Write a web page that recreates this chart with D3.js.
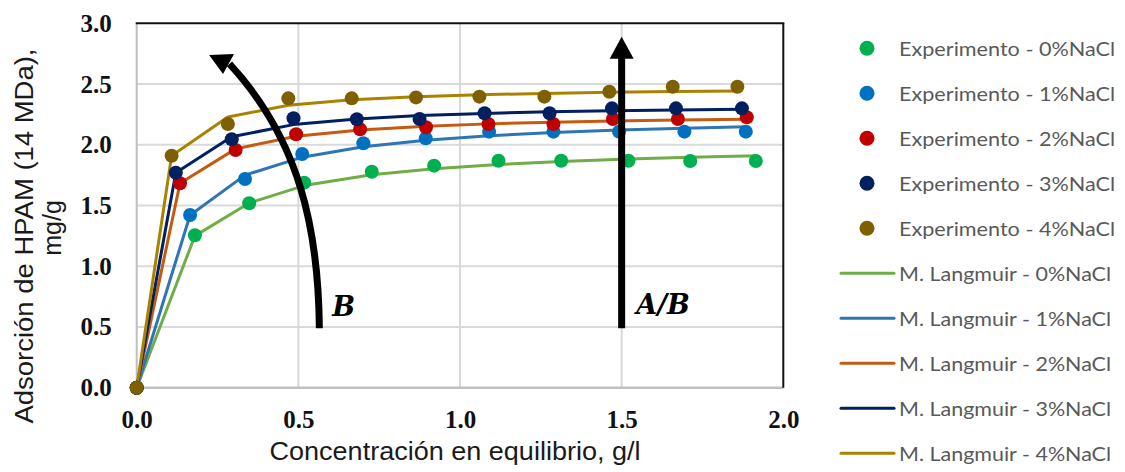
<!DOCTYPE html>
<html>
<head>
<meta charset="utf-8">
<script src="https://cdn.jsdelivr.net/npm/d3@7"></script>
<style>
  html, body { margin: 0; padding: 0; background: #ffffff; }
  svg { display: block; }
</style>
</head>
<body>
<svg id="chart" width="1125" height="472"></svg>
<script>
// ---------- DATA ----------
const seriesNames = ["0%NaCl", "1%NaCl", "2%NaCl", "3%NaCl", "4%NaCl"];
const conc0 = [0, 0.180, 0.348, 0.518, 0.727, 0.920, 1.119, 1.313, 1.521, 1.712, 1.915];
const exp0  = [0, 1.255, 1.518, 1.688, 1.778, 1.828, 1.869, 1.869, 1.869, 1.866, 1.866];
const lang0 = [0, 1.250, 1.520, 1.664, 1.753, 1.803, 1.838, 1.863, 1.883, 1.897, 1.909];

const conc1 = [0, 0.165, 0.335, 0.512, 0.701, 0.894, 1.090, 1.289, 1.492, 1.694, 1.884];
const exp1  = [0, 1.422, 1.718, 1.924, 2.012, 2.053, 2.108, 2.108, 2.108, 2.108, 2.108];
const lang1 = [0, 1.420, 1.750, 1.898, 1.984, 2.037, 2.074, 2.101, 2.121, 2.137, 2.149];

const conc2 = [0, 0.134, 0.306, 0.493, 0.691, 0.895, 1.088, 1.289, 1.473, 1.674, 1.887];
const exp2  = [0, 1.683, 1.957, 2.086, 2.127, 2.144, 2.171, 2.171, 2.212, 2.212, 2.226];
const lang2 = [0, 1.683, 1.966, 2.070, 2.122, 2.153, 2.172, 2.186, 2.195, 2.203, 2.210];

const conc3 = [0, 0.121, 0.294, 0.485, 0.681, 0.875, 1.076, 1.277, 1.470, 1.668, 1.872];
const exp3  = [0, 1.770, 2.045, 2.218, 2.210, 2.212, 2.259, 2.259, 2.300, 2.300, 2.300];
const lang3 = [0, 1.770, 2.066, 2.166, 2.213, 2.240, 2.258, 2.271, 2.280, 2.287, 2.292];

const conc4 = [0, 0.108, 0.282, 0.469, 0.665, 0.864, 1.060, 1.261, 1.462, 1.658, 1.858];
const exp4  = [0, 1.910, 2.171, 2.382, 2.382, 2.390, 2.396, 2.396, 2.437, 2.478, 2.478];
const lang4 = [0, 1.910, 2.229, 2.325, 2.370, 2.396, 2.412, 2.423, 2.432, 2.438, 2.443];

const xTicks = [0, 0.5, 1.0, 1.5, 2.0];
const yTicks = [0, 0.5, 1.0, 1.5, 2.0, 2.5, 3.0];

const expColors  = ["#00B050", "#0070C0", "#C00000", "#002060", "#7F6000"];
const langColors = ["#70AD47", "#2E75B6", "#C55A11", "#002060", "#A98300"];

// annotation anchors (data units)
const arrowStraight = { x: 1.5, y0: 0.49, y1: 2.89 };
const arrowCurve = [[0.565, 0.49], [0.562, 1.30], [0.505, 2.04], [0.287, 2.665]];
const arrowCurveHead = [[0.224, 2.738], [0.301, 2.747], [0.267, 2.583]];

// ---------- CHART ----------
const concs = [conc0, conc1, conc2, conc3, conc4];
const exps = [exp0, exp1, exp2, exp3, exp4];
const langs = [lang0, lang1, lang2, lang3, lang4];

const svg = d3.select("#chart");
const x = d3.scaleLinear().domain([0, 2]).range([136.7, 783.3]);
const y = d3.scaleLinear().domain([0, 3]).range([387.7, 23.3]);

// gridlines
const grid = svg.append("g");
grid.selectAll("line.h").data(yTicks.filter(d => d > 0 && d < 3)).join("line")
  .attr("x1", x(0)).attr("x2", x(2)).attr("y1", d => y(d)).attr("y2", d => y(d))
  .attr("stroke", "#D9D9D9").attr("stroke-width", 2);
grid.selectAll("line.v").data(xTicks.filter(d => d > 0 && d < 2)).join("line")
  .attr("y1", y(0)).attr("y2", y(3)).attr("x1", d => x(d)).attr("x2", d => x(d))
  .attr("stroke", "#D9D9D9").attr("stroke-width", 2);

// borders
svg.append("line").attr("x1", x(0)).attr("x2", x(0)).attr("y1", y(0)).attr("y2", y(3))
  .attr("stroke", "#BFBFBF").attr("stroke-width", 2);
svg.append("line").attr("x1", x(0)).attr("x2", x(2)).attr("y1", y(0)).attr("y2", y(0))
  .attr("stroke", "#BFBFBF").attr("stroke-width", 2.5);
svg.append("line").attr("x1", x(0) - 1).attr("x2", x(2) + 1).attr("y1", y(3)).attr("y2", y(3))
  .attr("stroke", "#111").attr("stroke-width", 2);
svg.append("line").attr("x1", x(2)).attr("x2", x(2)).attr("y1", y(3)).attr("y2", y(0))
  .attr("stroke", "#111").attr("stroke-width", 2);

// axes tick labels via d3 axes
const fmt = d3.format(".1f");
const yAxis = svg.append("g").attr("transform", `translate(${x(0)},0)`)
  .call(d3.axisLeft(y).tickValues(yTicks).tickFormat(fmt).tickSize(0).tickPadding(25));
const xAxis = svg.append("g").attr("transform", `translate(0,${y(0)})`)
  .call(d3.axisBottom(x).tickValues(xTicks).tickFormat(fmt).tickSize(0).tickPadding(23));
[yAxis, xAxis].forEach(a => {
  a.select(".domain").remove();
  a.selectAll("text")
    .attr("font-family", "'Liberation Serif', 'Times New Roman', serif")
    .attr("font-weight", "bold")
    .attr("font-size", 25)
    .attr("fill", "#111");
});
xAxis.selectAll("text").attr("dy", "0.71em");

// model lines
const lineGen = d3.line().x(d => x(d[0])).y(d => y(d[1]));
const linesG = svg.append("g");
langs.forEach((ls, i) => {
  const pts = concs[i].map((c, j) => [c, ls[j]]);
  linesG.append("path").attr("d", lineGen(pts))
    .attr("fill", "none").attr("stroke", langColors[i]).attr("stroke-width", 3)
    .attr("stroke-linejoin", "round");
});

// experiment points
const ptsG = svg.append("g");
exps.forEach((es, i) => {
  const pts = concs[i].map((c, j) => [c, es[j]]);
  ptsG.selectAll(null).data(pts).join("circle")
    .attr("cx", d => x(d[0])).attr("cy", d => y(d[1])).attr("r", 7)
    .attr("fill", expColors[i]);
});

// annotations
const ann = svg.append("g");
ann.append("line")
  .attr("x1", x(arrowStraight.x)).attr("x2", x(arrowStraight.x))
  .attr("y1", y(arrowStraight.y0)).attr("y2", y(arrowStraight.y1) + 20)
  .attr("stroke", "#000").attr("stroke-width", 7);
ann.append("path")
  .attr("d", `M${x(arrowStraight.x) - 12},${y(arrowStraight.y1) + 22} L${x(arrowStraight.x) + 12},${y(arrowStraight.y1) + 22} L${x(arrowStraight.x)},${y(arrowStraight.y1)} Z`)
  .attr("fill", "#000");
const cp = arrowCurve.map(p => [x(p[0]), y(p[1])]);
ann.append("path")
  .attr("d", `M${cp[0][0]},${cp[0][1]} C${cp[1][0]},${cp[1][1]} ${cp[2][0]},${cp[2][1]} ${cp[3][0]},${cp[3][1]}`)
  .attr("fill", "none").attr("stroke", "#000").attr("stroke-width", 7);
ann.append("path")
  .attr("d", "M" + arrowCurveHead.map(p => `${x(p[0])},${y(p[1])}`).join(" L") + " Z")
  .attr("fill", "#000");
ann.append("text").attr("x", x(0.605)).attr("y", y(0.59))
  .attr("font-family", "'DejaVu Serif', 'Liberation Serif', serif")
  .attr("font-style", "italic").attr("font-weight", "bold").attr("font-size", 27)
  .attr("fill", "#000").text("B");
ann.append("text").attr("x", x(1.545)).attr("y", y(0.605))
  .attr("font-family", "'DejaVu Serif', 'Liberation Serif', serif")
  .attr("font-style", "italic").attr("font-weight", "bold").attr("font-size", 27)
  .attr("fill", "#000").text("A/B");

// axis titles
svg.append("text").attr("x", 455).attr("y", 460).attr("text-anchor", "middle")
  .attr("font-family", "'Liberation Sans', Arial, sans-serif").attr("font-size", 25)
  .attr("fill", "#1a1a1a").attr("textLength", 371).attr("lengthAdjust", "spacingAndGlyphs")
  .text("Concentración en equilibrio, g/l");
svg.append("text").attr("transform", "translate(33,236) rotate(-90)").attr("text-anchor", "middle")
  .attr("font-family", "'Liberation Sans', Arial, sans-serif").attr("font-size", 25)
  .attr("fill", "#1a1a1a").attr("textLength", 375).attr("lengthAdjust", "spacingAndGlyphs")
  .text("Adsorción de HPAM (14 MDa),");
svg.append("text").attr("transform", "translate(61,228) rotate(-90)").attr("text-anchor", "middle")
  .attr("font-family", "'Liberation Sans', Arial, sans-serif").attr("font-size", 25)
  .attr("fill", "#1a1a1a")
  .text("mg/g");

// legend
const leg = svg.append("g");
const legFont = "Lato, 'Open Sans', sans-serif";
seriesNames.forEach((n, i) => {
  const cy = 48.3 + i * 45;
  leg.append("circle").attr("cx", 867).attr("cy", cy).attr("r", 7.5).attr("fill", expColors[i]);
  leg.append("text").attr("x", 899).attr("y", cy + 7.5)
    .attr("font-family", legFont).attr("font-size", 20).attr("fill", "#595959")
    .attr("textLength", 216).attr("lengthAdjust", "spacingAndGlyphs")
    .text("Experimento - " + n);
});
seriesNames.forEach((n, i) => {
  const cy = 273.3 + i * 45;
  leg.append("line").attr("x1", 841).attr("x2", 894).attr("y1", cy).attr("y2", cy)
    .attr("stroke", langColors[i]).attr("stroke-width", 3).attr("stroke-linecap", "round");
  leg.append("text").attr("x", 899).attr("y", cy + 7.5)
    .attr("font-family", legFont).attr("font-size", 20).attr("fill", "#595959")
    .attr("textLength", 212).attr("lengthAdjust", "spacingAndGlyphs")
    .text("M. Langmuir - " + n);
});
</script>
</body>
</html>
